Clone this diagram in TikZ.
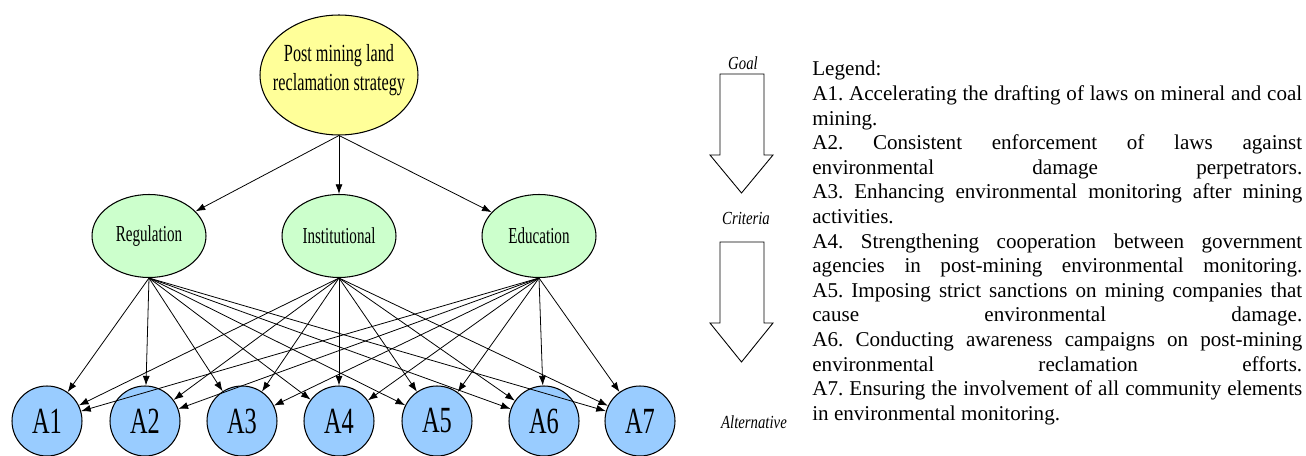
\documentclass[tikz,border=0pt]{standalone}
\usepackage{fontspec}
\setmainfont{Liberation Serif}
\newfontfamily\narrowfont[FakeStretch=0.66]{Liberation Serif}
\newfontfamily\levelfont[FakeStretch=0.8]{Liberation Serif}
\usetikzlibrary{arrows.meta,shapes.geometric}
\definecolor{goalyellow}{HTML}{FFFF99}
\definecolor{critgreen}{HTML}{CCFFCC}
\definecolor{altblue}{HTML}{99CCFF}
\tolerance=10000
\hbadness=10000
\frenchspacing

\begin{document}
\begin{tikzpicture}[x=0.02cm, y=-0.02cm,
    goalnode/.style={ellipse, draw, line width=0.6pt, fill=goalyellow, inner ysep=0pt,
        inner xsep=-8pt, minimum width=3.16cm, minimum height=2.4cm, align=center,
        font=\narrowfont\fontsize{14}{16.4}\selectfont},
    critnode/.style={ellipse, draw, line width=0.6pt, fill=critgreen, inner sep=0pt,
        minimum width=2.28cm, minimum height=1.66cm,
        font=\narrowfont\fontsize{13}{15}\selectfont},
    altnode/.style={ellipse, draw, line width=0.6pt, fill=altblue, inner sep=0pt,
        minimum width=1.4cm, minimum height=1.4cm,
        font=\narrowfont\fontsize{21}{24}\selectfont},
    link/.style={-{Latex[length=5.5pt,width=4pt]}, line width=0.45pt},
    levellabel/.style={inner sep=0pt, font=\levelfont\itshape\fontsize{10.5}{12}\selectfont},
    blockarrow/.style={draw, line width=0.5pt, fill=white}]
    \useasboundingbox (0,0) rectangle (1306,456);

    % Draw goal node
    \node[goalnode] (goal) at (339, 75) {Post mining land\\reclamation strategy\\[-8pt]};

    % Draw criteria nodes
    \node[critnode] (reg) at (149, 236) {Regulation};
    \node[critnode] (inst) at (339, 236) {Institutional};
    \node[critnode] (edu) at (539, 236) {Education};

    % Draw alternative nodes
    \node[altnode] (a1) at (47, 421) {A1};
    \node[altnode] (a2) at (145, 421) {A2};
    \node[altnode] (a3) at (242, 421) {A3};
    \node[altnode] (a4) at (339, 421) {A4};
    \node[altnode] (a5) at (437, 421) {A5};
    \node[altnode] (a6) at (544, 421) {A6};
    \node[altnode] (a7) at (640, 421) {A7};

    % Draw edges from goal to criteria
    \draw[link] (goal.south) -- (reg);
    \draw[link] (goal.south) -- (inst);
    \draw[link] (goal.south) -- (edu);

    % Draw edges from Regulation
    \draw[link] (reg.south) -- (a1);
    \draw[link] (reg.south) -- (a2);
    \draw[link] (reg.south) -- (a3);
    \draw[link] (reg.south) -- (a4);
    \draw[link] (reg.south) -- (a5);
    \draw[link] (reg.south) -- (a6);
    \draw[link] (reg.south) -- (a7);

    % Draw edges from Institutional
    \draw[link] (inst.south) -- (a1);
    \draw[link] (inst.south) -- (a2);
    \draw[link] (inst.south) -- (a3);
    \draw[link] (inst.south) -- (a4);
    \draw[link] (inst.south) -- (a5);
    \draw[link] (inst.south) -- (a6);
    \draw[link] (inst.south) -- (a7);

    % Draw edges from Education
    \draw[link] (edu.south) -- (a1);
    \draw[link] (edu.south) -- (a2);
    \draw[link] (edu.south) -- (a3);
    \draw[link] (edu.south) -- (a4);
    \draw[link] (edu.south) -- (a5);
    \draw[link] (edu.south) -- (a6);
    \draw[link] (edu.south) -- (a7);

    % Draw hierarchy levels with hollow arrows
    \node[levellabel] (goallabel) at (743, 63) {Goal};
    \node[levellabel] (critlabel) at (746, 218) {Criteria};
    \node[levellabel] (altlabel) at (754, 422) {Alternative};
    \draw[blockarrow] (720,74) -- (764,74) -- (764,155) -- (773,155) -- (741.5,193)
        -- (710,155) -- (720,155) -- cycle;
    \draw[blockarrow] (720,242) -- (764,242) -- (764,323) -- (773,323) -- (741.5,362)
        -- (710,323) -- (720,323) -- cycle;

    % Draw legend
    \node[anchor=north west, inner sep=0pt, text width=9.8cm, align=justify,
        font=\fontsize{12}{14}\selectfont] (legend) at (812, 61) {%
        Legend:\\
        A1. Accelerating the drafting of laws on mineral and coal\linebreak
        mining.\\
        A2. Consistent enforcement of laws against\linebreak
        environmental damage perpetrators.\linebreak
        A3. Enhancing environmental monitoring after mining\linebreak
        activities.\\
        A4. Strengthening cooperation between government\linebreak
        agencies in post-mining environmental monitoring.\linebreak
        A5. Imposing strict sanctions on mining companies that\linebreak
        cause environmental damage.\linebreak
        A6. Conducting awareness campaigns on post-mining\linebreak
        environmental reclamation efforts.\linebreak
        A7. Ensuring the involvement of all community elements\linebreak
        in environmental monitoring.};
\end{tikzpicture}
\end{document}
